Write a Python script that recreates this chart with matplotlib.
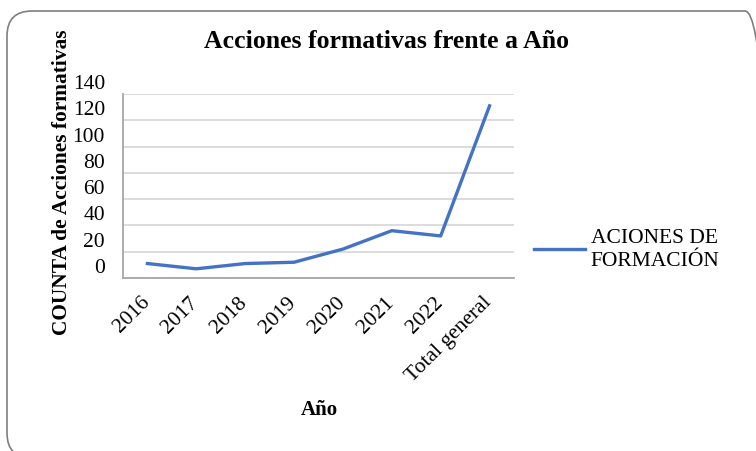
import matplotlib
matplotlib.use("Agg")
import matplotlib.pyplot as plt
import matplotlib.transforms as mtransforms
from matplotlib.patches import FancyBboxPatch

anios = ["2016", "2017", "2018", "2019", "2020", "2021", "2022", "Total general"]
acciones = [11, 7, 11, 12, 22, 36, 32, 131]
y_ticks = [0, 20, 40, 60, 80, 100, 120, 140]

plt.rcParams["font.family"] = ["Liberation Serif", "DejaVu Serif"]

fig = plt.figure(figsize=(7.56, 4.51), dpi=100)
ax = fig.add_axes([123 / 756, 1 - 278 / 451, 391 / 756, 184 / 451])

ax.plot(range(len(anios)), acciones, color="#4472C4", lw=2.4,
        solid_joinstyle="round", label="ACIONES DE\nFORMACIÓN")

ax.set_xlim(-0.5, len(anios) - 0.5)
ax.set_ylim(0, 140)
ax.set_yticks(y_ticks)
ax.set_xticks(range(len(anios)))
ax.set_xticklabels(anios, rotation=45, ha="right", va="top")
ax.tick_params(axis="both", length=0, labelsize=15.5, colors="black")
ax.tick_params(axis="x", pad=11)
ax.tick_params(axis="y", pad=13)

# Excel deja las etiquetas del eje Y algo desplazadas hacia arriba
offset_y = mtransforms.ScaledTranslation(0, 12 / 100, fig.dpi_scale_trans)
for lbl in ax.get_yticklabels():
    lbl.set_transform(lbl.get_transform() + offset_y)
offset_x = mtransforms.ScaledTranslation(6 / 100, 0, fig.dpi_scale_trans)
for lbl in ax.get_xticklabels():
    lbl.set_transform(lbl.get_transform() + offset_x)

ax.grid(axis="y", color="#d9d9d9", lw=1.3)
ax.set_axisbelow(True)
for s in ["top", "right"]:
    ax.spines[s].set_visible(False)
for s in ["left", "bottom"]:
    ax.spines[s].set_color("#a6a6a6")
    ax.spines[s].set_linewidth(1.3)

fig.text(386 / 756, 1 - 41 / 451, "Acciones formativas frente a Año",
         ha="center", va="center", fontsize=18.5, fontweight="bold")
fig.text(62 / 756, 1 - 182 / 451, "COUNTA de Acciones formativas",
         ha="center", va="center", rotation=90, fontsize=15.4, fontweight="bold")
fig.text(319 / 756, 1 - 410 / 451, "Año",
         ha="center", va="center", fontsize=15, fontweight="bold")

leg = ax.legend(loc="center left", bbox_to_anchor=(534 / 756, 1 - 250 / 451),
                bbox_transform=fig.transFigure, frameon=False, fontsize=15.5,
                handlelength=2.37, handletextpad=0.26, borderaxespad=0,
                borderpad=0, labelspacing=0)
for t in leg.get_texts():
    t.set_linespacing(1.35)

border = FancyBboxPatch((0.07, -0.07), 7.63, 4.40 + 0.07,
                        boxstyle="round,pad=0,rounding_size=0.25",
                        transform=fig.dpi_scale_trans, fill=False,
                        edgecolor="#7f7f7f", lw=1.2, clip_on=False)
fig.patches.append(border)

fig.savefig("out.png", dpi=100)
